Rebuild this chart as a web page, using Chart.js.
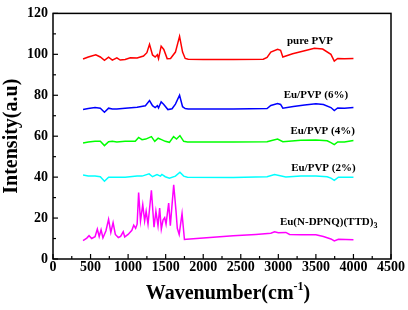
<!DOCTYPE html>
<html>
<head>
<meta charset="utf-8">
<script src="https://cdn.jsdelivr.net/npm/chart.js@4/dist/chart.umd.min.js"></script>
<style>
  html, body { margin: 0; padding: 0; background: #fff; }
  #wrap { width: 408px; height: 310px; }
</style>
</head>
<body>
<div id="wrap"><canvas id="ftir"></canvas></div>
<script>
// FTIR spectra, values (wavenumber in cm-1, intensity in a.u.)
const pvpX = [400,470,570,630,685,740,790,850,895,960,1030,1120,1205,1250,1285,1325,1360,1390,1405,1440,1475,1520,1565,1630,1685,1725,1760,1800,2000,2400,2800,2850,2900,2990,3030,3060,3190,3350,3480,3590,3700,3745,3790,3880,4000];
const pvpY = [97.7,98.7,99.8,98.7,97.1,98.6,97.2,98.3,97.2,97.5,98.3,98.2,99.2,100.8,104.9,99.7,98.7,99.8,97.9,104,102.4,97.9,98,101.1,108.8,101.1,98,97.6,97.5,97.5,97.6,98.5,101.1,102.5,102,98.7,100.3,101.8,103,102.6,100,96.7,98,97.8,98];

const eu6X = [400,470,560,630,685,740,790,850,960,1120,1230,1285,1325,1360,1390,1405,1440,1475,1530,1585,1630,1685,1725,1760,1800,2400,2850,2900,2990,3030,3060,3200,3350,3500,3600,3700,3745,3790,3880,4000];
const eu6Y = [73,73.5,74,73.7,71.7,73.7,73.3,73.3,73.6,74.1,74.9,77.4,74.9,74,74.9,73.8,76.8,75.5,73,73.4,75.7,80,74.4,73.5,73.3,73.3,73.5,75,76,75.5,73.7,74.5,75.3,75.9,75.5,74,72.5,73.8,73.6,74];

const eu4X = [400,470,560,630,685,740,790,850,960,1095,1140,1185,1235,1310,1355,1400,1445,1495,1550,1605,1645,1690,1740,1790,2400,2850,2900,2990,3060,3300,3500,3650,3700,3745,3790,3880,4000];
const eu4Y = [56.7,57.2,57.5,57.5,55.4,57.3,57.5,57.2,57.5,57.5,59.4,58.3,58.6,59.8,57.5,59,58.3,57.5,57,59.8,58.6,60.3,57.5,57.2,57.2,57.3,57.8,58.6,57.3,58,58.2,57.8,56.9,55.9,57.2,57.2,57.9];

const eu2X = [400,470,560,630,685,740,850,960,1120,1185,1280,1325,1385,1430,1450,1495,1550,1630,1690,1740,1790,2400,2850,2950,3100,3300,3500,3650,3700,3745,3800,4000];
const eu2Y = [41,40.6,40.5,40.2,38,40,40,40,40.5,40.5,41.6,40.2,41.2,40.5,41.3,40.2,39.5,40.5,42.4,40.5,40,39.8,40.2,41.3,40.1,40.5,40.6,40.2,39.5,38.4,40,40];

const cplxX = [400,450,480,515,560,590,615,640,665,705,740,770,800,830,870,900,935,955,1000,1050,1075,1100,1120,1140,1165,1195,1220,1240,1265,1310,1345,1370,1398,1420,1442,1465,1487,1505,1540,1562,1607,1638,1655,1680,1718,1750,1780,2000,2400,2700,2900,2950,3000,3100,3150,3300,3500,3600,3700,3745,3800,4000];
const cplxY = [9,10.2,11.4,10,10.9,14.6,11,14.3,10.3,13.8,19.4,13,17.8,12,10.5,11,13.3,10.8,12,14,16.5,15,17,32.5,18.6,26.5,18.6,23.3,17,33.6,15.5,23.3,16.3,24.9,14.6,19,20.2,17,27.3,16.3,36.3,23.3,15,12,22.2,9.5,9.6,10.3,11.3,12,12.6,13.3,12.8,13,12,11.8,11.8,11,9.8,8.8,9.6,9.4];

const seriesNames = ["pure PVP", "Eu/PVP (6%)", "Eu/PVP (4%)", "Eu/PVP (2%)", "Eu(N-DPNQ)(TTD)3"];
const seriesColors = ["#ff0000", "#0000ff", "#00ff00", "#00ffff", "#ff00ff"];
// where each curve's name sits, in data units
const labelX = [3420, 3500, 3590, 3600, 3670];
const labelY = [106.2, 80, 62.4, 44.3, 18.1];

const xs = [pvpX, eu6X, eu4X, eu2X, cplxX];
const ys = [pvpY, eu6Y, eu4Y, eu2Y, cplxY];

const serif = "'Liberation Serif', 'Times New Roman', serif";

const frameAndText = {
  id: "frameAndText",
  afterDraw(chart) {
    const ctx = chart.ctx;
    const a = chart.chartArea;
    const xs_ = chart.scales.x, ys_ = chart.scales.y;
    ctx.save();
    ctx.strokeStyle = "#000";
    ctx.lineWidth = 1.5;
    ctx.strokeRect(a.left, a.top, a.right - a.left, a.bottom - a.top);

    // inward ticks, major + minor
    ctx.lineWidth = 1.2;
    for (let v = 0; v <= 4500; v += 250) {
      const px = xs_.getPixelForValue(v);
      const len = v % 500 === 0 ? 5 : 3;
      ctx.beginPath(); ctx.moveTo(px, a.bottom); ctx.lineTo(px, a.bottom - len); ctx.stroke();
    }
    for (let v = 0; v <= 120; v += 10) {
      const py = ys_.getPixelForValue(v);
      const len = v % 20 === 0 ? 5 : 3;
      ctx.beginPath(); ctx.moveTo(a.left, py); ctx.lineTo(a.left + len, py); ctx.stroke();
    }

    // curve names
    ctx.fillStyle = "#000";
    ctx.textBaseline = "middle";
    seriesNames.forEach((name, i) => {
      const px = xs_.getPixelForValue(labelX[i]);
      const py = ys_.getPixelForValue(labelY[i]);
      ctx.font = "bold 11px " + serif;
      if (name.endsWith(")3")) {
        const main = name.slice(0, -1);
        ctx.textAlign = "left";
        const w = ctx.measureText(main).width;
        ctx.font = "bold 8px " + serif;
        const ws = ctx.measureText("3").width;
        const x0 = px - (w + ws) / 2;
        ctx.font = "bold 11px " + serif;
        ctx.fillText(main, x0, py);
        ctx.font = "bold 8px " + serif;
        ctx.fillText("3", x0 + w, py + 4);
      } else {
        ctx.textAlign = "center";
        ctx.fillText(name, px, py);
      }
    });

    // x title with superscript
    ctx.textAlign = "left";
    ctx.textBaseline = "alphabetic";
    const base = 299;
    ctx.font = "bold 20px " + serif;
    const t1 = "Wavenumber(cm", t3 = ")";
    const w1 = ctx.measureText(t1).width, w3 = ctx.measureText(t3).width;
    ctx.font = "bold 12px " + serif;
    const w2 = ctx.measureText("-1").width;
    let x0 = (a.left + a.right) / 2 + 6 - (w1 + w2 + w3) / 2;
    ctx.font = "bold 20px " + serif;
    ctx.fillText(t1, x0, base);
    ctx.font = "bold 12px " + serif;
    ctx.fillText("-1", x0 + w1, base - 9);
    ctx.font = "bold 20px " + serif;
    ctx.fillText(t3, x0 + w1 + w2, base);
    ctx.restore();
  }
};

new Chart(document.getElementById("ftir"), {
  type: "scatter",
  data: {
    datasets: seriesNames.map((name, i) => ({
      label: name,
      data: xs[i].map((x, j) => ({ x: x, y: ys[i][j] })),
      showLine: true,
      borderColor: seriesColors[i],
      backgroundColor: seriesColors[i],
      borderWidth: 1.5,
      pointRadius: 0,
      tension: 0,
    })),
  },
  options: {
    responsive: true,
    maintainAspectRatio: false,
    animation: false,
    layout: { padding: { top: 7, right: 17, left: 0, bottom: 0 } },
    plugins: {
      legend: { display: false },
      tooltip: { enabled: false },
    },
    scales: {
      x: {
        type: "linear",
        min: 0,
        max: 4500,
        afterFit: (s) => { s.height = 51; },
        ticks: {
          stepSize: 500,
          padding: 0,
          color: "#000",
          font: { family: serif, size: 14, weight: "bold" },
          callback: (v) => String(v),
        },
        grid: { display: false, drawTicks: false },
        border: { display: false },
      },
      y: {
        min: 0,
        max: 120,
        afterFit: (s) => { s.width = 53; },
        ticks: {
          stepSize: 20,
          padding: 5,
          color: "#000",
          font: { family: serif, size: 14, weight: "bold" },
        },
        title: {
          display: true,
          text: "Intensity(a.u)",
          color: "#000",
          padding: 0,
          font: { family: serif, size: 20, weight: "bold" },
        },
        grid: { display: false, drawTicks: false },
        border: { display: false },
      },
    },
  },
  plugins: [frameAndText],
});
</script>
</body>
</html>
